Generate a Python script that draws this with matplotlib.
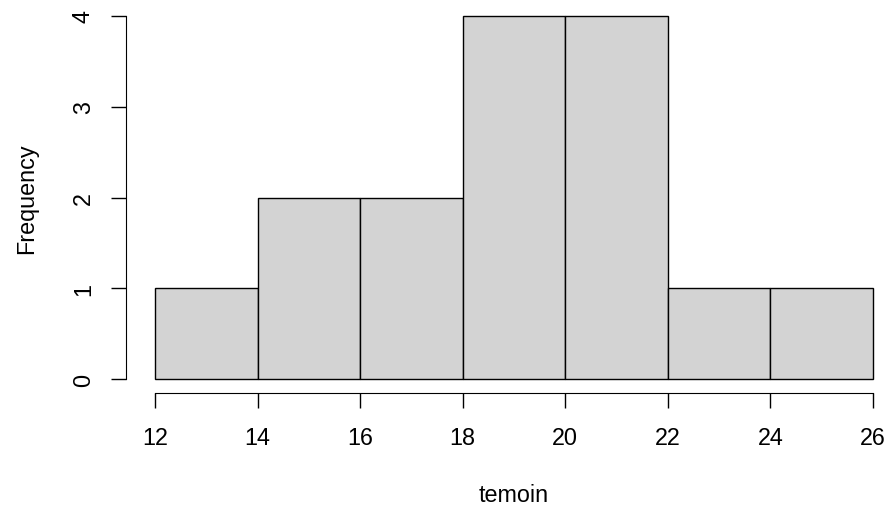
import matplotlib.pyplot as plt

plt.rcParams['font.family'] = ['Liberation Sans', 'DejaVu Sans']

bin_edges = [12, 14, 16, 18, 20, 22, 24, 26]
counts = [1, 2, 2, 4, 4, 1, 1]
xticks = [12, 14, 16, 18, 20, 22, 24, 26]
yticks = [0, 1, 2, 3, 4]

W, H = 891, 510
fig = plt.figure(figsize=(W / 100, H / 100), dpi=100)
# data region in pixels: x 155..873, y 17..380
ax = fig.add_axes([155 / W, (H - 380) / H, (873 - 155) / W, (380 - 17) / H])

bars = ax.bar(bin_edges[:-1], counts, width=2, align='edge',
              color='#d3d3d3', edgecolor='black', linewidth=1)
for b in bars:
    b.set_clip_on(False)
ax.set_xlim(12, 26)
ax.set_ylim(0, 4)

ax.spines['top'].set_visible(False)
ax.spines['right'].set_visible(False)
ax.spines['left'].set_position(('outward', 29 * 0.72))
ax.spines['bottom'].set_position(('outward', 14 * 0.72))
ax.spines['left'].set_bounds(0, 4)
ax.spines['bottom'].set_bounds(12, 26)

fs = 16.8
ax.set_xticks(xticks)
ax.set_yticks(yticks)
ax.tick_params(axis='both', length=10.5, width=1, labelsize=fs)
ax.tick_params(axis='x', pad=13)
ax.tick_params(axis='y', pad=12)
for lab in ax.get_yticklabels():
    lab.set_rotation(90)
    lab.set_va('center')

fig.text(514 / W, 1 - 496 / H, 'temoin', ha='center', va='center', fontsize=fs)
fig.text(27 / W, 1 - 199 / H, 'Frequency', ha='center', va='center',
         rotation=90, fontsize=fs)

fig.savefig('out.png', dpi=100)
